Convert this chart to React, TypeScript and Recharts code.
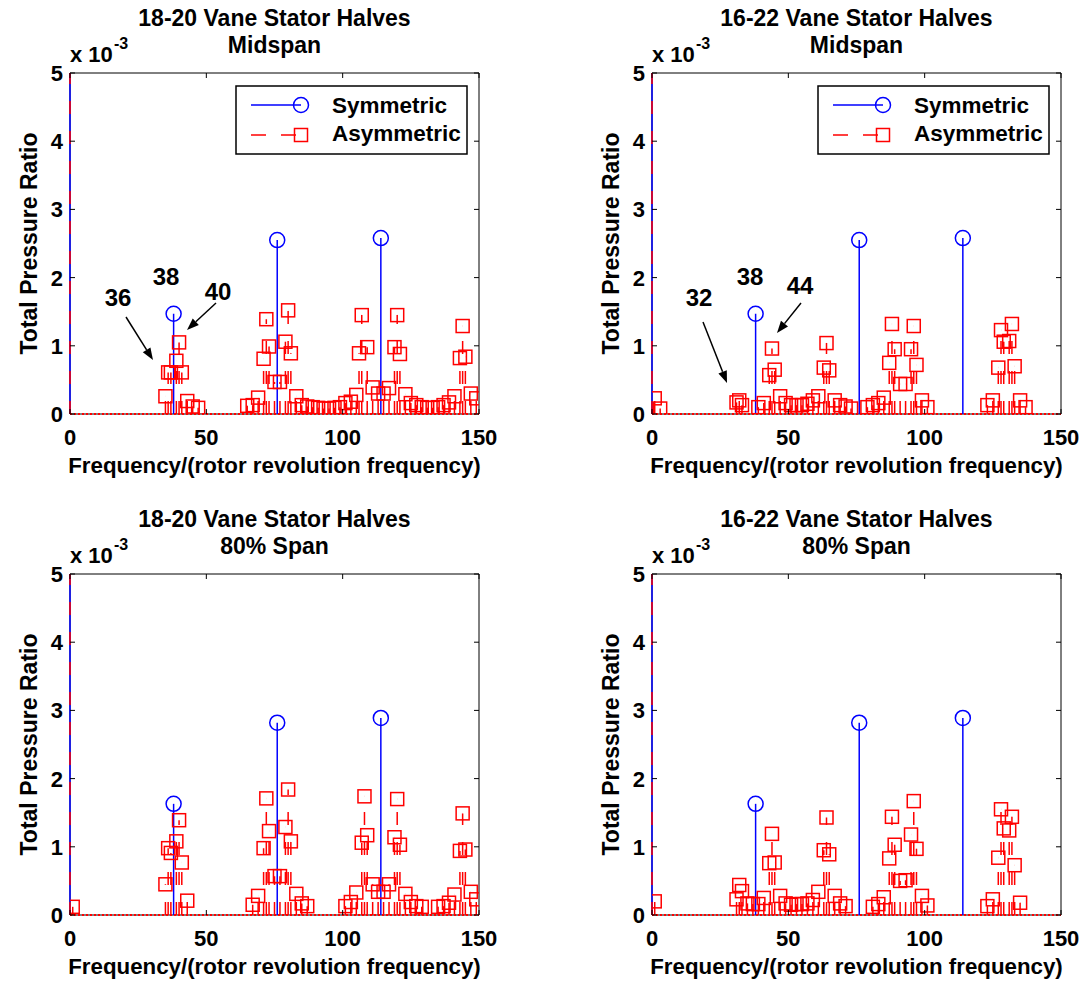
import React from 'react';
import {
  ScatterChart,
  Scatter,
  XAxis,
  YAxis,
  ErrorBar,
  ReferenceArea,
  ReferenceLine,
} from 'recharts';

const FONT = '"Liberation Sans", Arial, Helvetica, sans-serif';
const BLUE = '#0000ff';
const RED = '#ff0000';

const xTicks = [0, 50, 100, 150];
const yTicks = [0, 1, 2, 3, 4, 5];
const Y_MAX = 5;

// [frequency / rotor frequency, total pressure ratio x 1e-3]
// 18-20 vane stator halves, midspan
const symMid1820: [number, number][] = [[0, 30], [38, 1.47], [76, 2.55], [114, 2.58]];
const asymMid1820: [number, number][] = [
  [0, 30], [35, 0.26], [36, 0.61], [37, 0.61], [39, 0.78], [40, 1.05], [41, 0.61], [43, 0.19],
  [45, 0.11], [47, 0.09], [65, 0.12], [67, 0.13], [69, 0.24], [71, 0.81], [72, 1.39], [73, 0.99],
  [75, 0.47], [77, 0.47], [79, 1.06], [80, 1.52], [81, 0.89], [83, 0.26], [85, 0.13], [87, 0.11],
  [89, 0.1], [91, 0.09], [93, 0.08], [95, 0.08], [97, 0.09], [99, 0.1], [101, 0.16], [103, 0.18],
  [105, 0.28], [106, 0.89], [107, 1.45], [109, 0.98], [111, 0.39], [113, 0.3], [115, 0.3],
  [117, 0.38], [119, 0.98], [120, 1.45], [121, 0.88], [123, 0.29], [125, 0.16], [127, 0.13],
  [129, 0.1], [131, 0.09], [133, 0.09], [135, 0.1], [137, 0.13], [139, 0.17], [141, 0.26],
  [143, 0.82], [144, 1.29], [145, 0.84], [147, 0.3], [149, 0.23],
];

// 16-22 vane stator halves, midspan
const symMid1622: [number, number][] = [[0, 30], [38, 1.47], [76, 2.55], [114, 2.58]];
const asymMid1622: [number, number][] = [
  [0, 30], [1, 0.23], [3, 0.08], [31, 0.17], [32, 0.2], [33, 0.13], [39, 0.1], [41, 0.16],
  [43, 0.57], [44, 0.96], [45, 0.65], [47, 0.26], [49, 0.16], [51, 0.13], [53, 0.13], [55, 0.13],
  [57, 0.15], [59, 0.2], [61, 0.26], [63, 0.68], [64, 1.04], [65, 0.64], [67, 0.2], [69, 0.13],
  [71, 0.11], [73, 0.08], [79, 0.1], [81, 0.13], [83, 0.16], [85, 0.24], [87, 0.75], [88, 1.32],
  [89, 0.95], [91, 0.44], [93, 0.44], [95, 0.95], [96, 1.29], [97, 0.72], [99, 0.2], [101, 0.1],
  [123, 0.13], [125, 0.2], [127, 0.68], [128, 1.23], [129, 1.06], [131, 1.07], [132, 1.32],
  [133, 0.7], [135, 0.2], [137, 0.1],
];

// 18-20 vane stator halves, 80% span
const symSpan1820: [number, number][] = [[0, 30], [38, 1.63], [76, 2.82], [114, 2.89]];
const asymSpan1820: [number, number][] = [
  [0, 30], [1, 0.12], [35, 0.45], [36, 0.98], [37, 0.91], [39, 1.08], [40, 1.39], [41, 0.77],
  [43, 0.21], [67, 0.15], [69, 0.28], [71, 0.98], [72, 1.71], [73, 1.23], [75, 0.57], [77, 0.57],
  [79, 1.29], [80, 1.84], [81, 1.08], [83, 0.31], [85, 0.17], [87, 0.13], [101, 0.13], [103, 0.19],
  [105, 0.33], [107, 1.06], [108, 1.74], [109, 1.17], [111, 0.45], [113, 0.34], [115, 0.34],
  [117, 0.45], [119, 1.14], [120, 1.7], [121, 1.03], [123, 0.31], [125, 0.19], [127, 0.13],
  [129, 0.12], [135, 0.12], [137, 0.13], [139, 0.18], [141, 0.3], [143, 0.94], [144, 1.49],
  [145, 0.96], [147, 0.34], [149, 0.23],
];

// 16-22 vane stator halves, 80% span
const symSpan1622: [number, number][] = [[0, 30], [38, 1.63], [76, 2.82], [114, 2.89]];
const asymSpan1622: [number, number][] = [
  [0, 30], [1, 0.2], [31, 0.23], [32, 0.44], [33, 0.35], [35, 0.17], [37, 0.16], [39, 0.16],
  [41, 0.25], [43, 0.76], [44, 1.19], [45, 0.77], [47, 0.28], [49, 0.17], [51, 0.15], [53, 0.16],
  [55, 0.16], [57, 0.17], [59, 0.22], [61, 0.34], [63, 0.95], [64, 1.43], [65, 0.89], [67, 0.28],
  [69, 0.17], [71, 0.13], [81, 0.12], [83, 0.16], [85, 0.26], [87, 0.83], [88, 1.44], [89, 1.03],
  [91, 0.5], [93, 0.51], [95, 1.18], [96, 1.67], [97, 0.97], [99, 0.28], [101, 0.14], [123, 0.13],
  [125, 0.23], [127, 0.84], [128, 1.55], [129, 1.27], [131, 1.24], [132, 1.44], [133, 0.73],
  [135, 0.18],
];

const titlesTop = ['18-20 Vane Stator Halves', '16-22 Vane Stator Halves'];
const subTitles = ['Midspan', '80% Span'];

// layout of one panel
const CHART_W = 500;
const CHART_H = 480;
const MARGIN = { top: 73, right: 21, bottom: 0, left: 0 };
const Y_AXIS_W = 70;
const X_AXIS_H = 66;
const PLOT_W = CHART_W - MARGIN.left - MARGIN.right - Y_AXIS_W;
const PLOT_H = CHART_H - MARGIN.top - MARGIN.bottom - X_AXIS_H;
const PANEL_DX = 582;
const PANEL_DY = 501;

// each stem runs from the baseline up to its value, cut at the top of the axis
type Row = { f: number; v: number; err: [number, number] };
const toRows = (pairs: [number, number][]): Row[] =>
  pairs.map(([f, v]) => ({ f, v, err: [v, Math.min(v, Y_MAX) - v] }));

const CircleMark = (p: any) => (
  <circle cx={p.cx} cy={p.cy} r={7.5} fill="none" stroke={BLUE} strokeWidth={1.5} />
);
const SquareMark = (p: any) => (
  <rect x={p.cx - 6.5} y={p.cy - 6.5} width={13} height={13} fill="none" stroke={RED} strokeWidth={1.5} />
);

const XTick = (p: any) => {
  const { x, y, payload } = p;
  return (
    <g>
      <line x1={x} y1={y} x2={x} y2={y - 5} stroke="#000" strokeWidth={1} />
      <line x1={x} y1={y - PLOT_H} x2={x} y2={y - PLOT_H + 5} stroke="#000" strokeWidth={1} />
      <text x={x} y={y + 31} textAnchor="middle" fontFamily={FONT} fontWeight="bold" fontSize={22} fill="#000">
        {payload.value}
      </text>
    </g>
  );
};

const YTick = (p: any) => {
  const { x, y, payload } = p;
  return (
    <g>
      <line x1={x} y1={y} x2={x + 5} y2={y} stroke="#000" strokeWidth={1} />
      <line x1={x + PLOT_W} y1={y} x2={x + PLOT_W - 5} y2={y} stroke="#000" strokeWidth={1} />
      <text x={x - 7} y={y + 8} textAnchor="end" fontFamily={FONT} fontWeight="bold" fontSize={22} fill="#000">
        {payload.value}
      </text>
    </g>
  );
};

const XLabel = (p: any) => {
  const vb = p.viewBox;
  return (
    <text x={vb.x + vb.width / 2} y={vb.y + 58.5} textAnchor="middle" fontFamily={FONT} fontWeight="bold" fontSize={22.3} fill="#000">
      Frequency/(rotor revolution frequency)
    </text>
  );
};

const YLabel = (p: any) => {
  const vb = p.viewBox;
  const cx = vb.x + 37;
  const cy = vb.y + vb.height / 2;
  return (
    <text x={cx} y={cy} transform={`rotate(-90 ${cx} ${cy})`} textAnchor="middle" fontFamily={FONT} fontWeight="bold" fontSize={23} fill="#000">
      Total Pressure Ratio
    </text>
  );
};

type PanelProps = {
  left: number;
  top: number;
  sym: [number, number][];
  asym: [number, number][];
};

const Panel = ({ left, top, sym, asym }: PanelProps) => (
  <div style={{ position: 'absolute', left, top, width: CHART_W, height: CHART_H }}>
    <ScatterChart width={CHART_W} height={CHART_H} margin={MARGIN}>
      <XAxis
        type="number"
        dataKey="f"
        domain={[0, 150]}
        ticks={xTicks}
        allowDataOverflow
        height={X_AXIS_H}
        tickSize={0}
        tickMargin={0}
        axisLine={false}
        tickLine={false}
        tick={<XTick />}
        label={<XLabel />}
      />
      <YAxis
        type="number"
        dataKey="v"
        domain={[0, Y_MAX]}
        ticks={yTicks}
        allowDataOverflow
        width={Y_AXIS_W}
        tickSize={0}
        tickMargin={0}
        axisLine={false}
        tickLine={false}
        tick={<YTick />}
        label={<YLabel />}
      />
      <ReferenceArea x1={0} x2={150} y1={0} y2={Y_MAX} fill="none" fillOpacity={0} stroke="#000" strokeWidth={1} />
      <Scatter data={toRows(sym)} shape={<CircleMark />} isAnimationActive={false}>
        <ErrorBar dataKey="err" direction="y" width={0} stroke={BLUE} strokeWidth={1.5} isAnimationActive={false} />
      </Scatter>
      <Scatter data={toRows(asym)} shape={<SquareMark />} isAnimationActive={false}>
        <ErrorBar
          dataKey="err"
          direction="y"
          width={0}
          stroke={RED}
          strokeWidth={1.5}
          strokeDasharray="13 17"
          isAnimationActive={false}
        />
      </Scatter>
      <ReferenceLine y={0} stroke={RED} strokeWidth={2} strokeDasharray="2 2" />
    </ScatterChart>
  </div>
);

const textStyle = { fontFamily: FONT, fontWeight: 'bold' as const, fill: '#000' };

const Header = ({ dx, dy, title, sub }: { dx: number; dy: number; title: string; sub: string }) => (
  <g transform={`translate(${dx} ${dy})`}>
    <text x={274.5} y={26} textAnchor="middle" fontSize={23} {...textStyle}>{title}</text>
    <text x={274.5} y={53} textAnchor="middle" fontSize={23} {...textStyle}>{sub}</text>
    <text x={70} y={62} fontSize={22} {...textStyle}>x 10</text>
    <text x={114} y={49} fontSize={16} {...textStyle}>-3</text>
  </g>
);

const LegendBox = ({ dx }: { dx: number }) => (
  <g transform={`translate(${dx} 0)`}>
    <rect x={236} y={86} width={231} height={68} fill="#fff" stroke="#000" strokeWidth={1.5} />
    <line x1={251} y1={105} x2={301} y2={105} stroke={BLUE} strokeWidth={1.5} />
    <circle cx={301} cy={105} r={7.5} fill="none" stroke={BLUE} strokeWidth={1.5} />
    <text x={332} y={112.5} fontSize={22.5} {...textStyle}>Symmetric</text>
    <line x1={251} y1={135} x2={301} y2={135} stroke={RED} strokeWidth={1.5} strokeDasharray="15 15" />
    <rect x={294.5} y={128.5} width={13} height={13} fill="none" stroke={RED} strokeWidth={1.5} />
    <text x={332} y={141} fontSize={22.5} {...textStyle}>Asymmetric</text>
  </g>
);

const Arrow = ({ x1, y1, x2, y2 }: { x1: number; y1: number; x2: number; y2: number }) => {
  const a = Math.atan2(y2 - y1, x2 - x1);
  const len = 12;
  const half = 4.5;
  const bx = x2 - len * Math.cos(a);
  const by = y2 - len * Math.sin(a);
  const px = -Math.sin(a) * half;
  const py = Math.cos(a) * half;
  return (
    <g>
      <line x1={x1} y1={y1} x2={bx} y2={by} stroke="#000" strokeWidth={1.5} />
      <polygon points={`${x2},${y2} ${bx + px},${by + py} ${bx - px},${by - py}`} fill="#000" />
    </g>
  );
};

const Note = ({ x, y, t }: { x: number; y: number; t: string }) => (
  <text x={x} y={y} textAnchor="middle" fontSize={24} {...textStyle}>{t}</text>
);

export default function App() {
  return (
    <div style={{ position: 'absolute', left: 0, top: 0, width: 1089, height: 982, background: '#fff' }}>
      <Panel left={0} top={0} sym={symMid1820} asym={asymMid1820} />
      <Panel left={PANEL_DX} top={0} sym={symMid1622} asym={asymMid1622} />
      <Panel left={0} top={PANEL_DY} sym={symSpan1820} asym={asymSpan1820} />
      <Panel left={PANEL_DX} top={PANEL_DY} sym={symSpan1622} asym={asymSpan1622} />
      <svg
        width={1089}
        height={982}
        style={{ position: 'absolute', left: 0, top: 0, pointerEvents: 'none' }}
      >
        <Header dx={0} dy={0} title={titlesTop[0]} sub={subTitles[0]} />
        <Header dx={PANEL_DX} dy={0} title={titlesTop[1]} sub={subTitles[0]} />
        <Header dx={0} dy={PANEL_DY} title={titlesTop[0]} sub={subTitles[1]} />
        <Header dx={PANEL_DX} dy={PANEL_DY} title={titlesTop[1]} sub={subTitles[1]} />
        <LegendBox dx={0} />
        <LegendBox dx={PANEL_DX} />
        <Note x={166} y={285} t="38" />
        <Note x={118} y={306} t="36" />
        <Note x={218} y={300} t="40" />
        <Arrow x1={126} y1={317} x2={153} y2={360} />
        <Arrow x1={216} y1={303} x2={187} y2={330} />
        <Note x={750} y={285} t="38" />
        <Note x={699} y={306} t="32" />
        <Note x={800} y={294} t="44" />
        <Arrow x1={703} y1={322} x2={727} y2={383} />
        <Arrow x1={801} y1={303} x2={777} y2={333} />
      </svg>
    </div>
  );
}
